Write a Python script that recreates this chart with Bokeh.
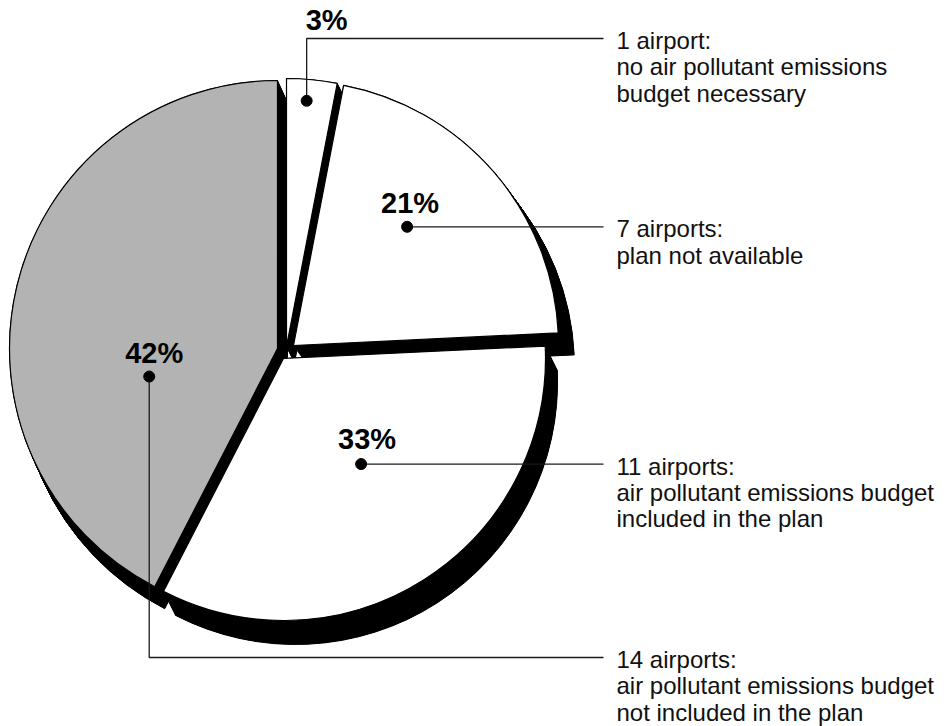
import numpy as np
from bokeh.plotting import figure
from bokeh.models import Range1d
from bokeh.embed import file_html
from bokeh.resources import INLINE
from bokeh.core.properties import value

# ---------------- data ----------------
counts = [1, 7, 11, 14]
pct_labels = ["3%", "21%", "33%", "42%"]
desc_lines = [
    ["1 airport:", "no air pollutant emissions", "budget necessary"],
    ["7 airports:", "plan not available"],
    ["11 airports:", "air pollutant emissions budget", "included in the plan"],
    ["14 airports:", "air pollutant emissions budget", "not included in the plan"],
]

# ---------------- style / layout (screen px, y downward) ----------------
slice_colors = ["#ffffff", "#ffffff", "#ffffff", "#b3b3b3"]
W, H = 952, 726
CX, CY = 277, 348                      # pie centre
explode = [(9, -2), (16, -3), (6, 10), (0, 0)]
radii = [268, 265, 262, 268]
depth = [(8, 16), (16, 22), (12, 24), (10, 22)]   # 3-D side offset
dot_ang_frac = [0.43, 0.43, 0.47, 0.33]
dot_rad_frac = [0.92, 0.62, 0.50, 0.49]
label_y = [38, None, None, 657]        # y of the label block (None: dot height)
pct_off = [(20, -70), (3, -13), (6, -14), (5, -13)]  # text centre-x / baseline from dot
LINE_END_X = 603
TEXT_X = 616
LINE_H = 26.3
FONT = "Liberation Sans"
PCT_FS, DESC_FS = 29, 24
BASE_FIX = 0.37                        # renderer baseline correction (em)


def Y(sy):
    return H - sy


p = figure(width=W, height=H, x_range=Range1d(0, W), y_range=Range1d(0, H),
           output_backend="svg", toolbar_location=None, min_border=0)
p.axis.visible = False
p.grid.visible = False
p.outline_line_color = None
p.background_fill_color = "white"
p.border_fill_color = "white"

total = float(sum(counts))
theta = np.concatenate([[0.0], np.cumsum(counts) / total * 2 * np.pi])  # clockwise from top

# 3-D sides (black), drawn first
N = 40
for i in range(len(counts)):
    vx, vy = CX + explode[i][0], CY + explode[i][1]
    t = np.linspace(0, 1, N)
    xs = vx + t * depth[i][0]
    ys = [Y(vy + tt * depth[i][1]) for tt in t]
    p.wedge(x=xs, y=ys, radius=radii[i],
            start_angle=np.pi / 2 - theta[i + 1], end_angle=np.pi / 2 - theta[i],
            fill_color="black", line_color="black", line_width=1)

# front faces
for i in range(len(counts)):
    vx, vy = CX + explode[i][0], CY + explode[i][1]
    p.wedge(x=[vx], y=[Y(vy)], radius=radii[i],
            start_angle=np.pi / 2 - theta[i + 1], end_angle=np.pi / 2 - theta[i],
            fill_color=slice_colors[i], line_color="black", line_width=1.2)

# labels
for i in range(len(counts)):
    vx, vy = CX + explode[i][0], CY + explode[i][1]
    a = theta[i] + dot_ang_frac[i] * (theta[i + 1] - theta[i])
    r = dot_rad_frac[i] * radii[i]
    dx, dy = vx + r * np.sin(a), vy - r * np.cos(a)
    ly = label_y[i] if label_y[i] is not None else dy
    if abs(ly - dy) > 0.5:
        xs_l = [dx, dx, LINE_END_X]
        ys_l = [Y(dy), Y(ly), Y(ly)]
    else:
        xs_l = [dx, LINE_END_X]
        ys_l = [Y(dy), Y(dy)]
    p.line(xs_l, ys_l, line_color="#1a1a1a", line_width=1.3)
    p.scatter([dx], [Y(dy)], size=11, marker="circle", fill_color="black", line_color="black")
    p.text([dx + pct_off[i][0]], [Y(dy + pct_off[i][1] - BASE_FIX * PCT_FS)], text=[pct_labels[i]],
           text_font=value(FONT), text_font_style="bold", text_font_size=f"{PCT_FS}px",
           text_align="center", text_baseline="alphabetic", text_color="black")
    lines = desc_lines[i]
    p.text([TEXT_X] * len(lines),
           [Y(ly + 11 + k * LINE_H - BASE_FIX * DESC_FS) for k in range(len(lines))], text=lines,
           text_font=value(FONT), text_font_size=f"{DESC_FS}px", text_align="left",
           text_baseline="alphabetic", text_color="#111111")

open("out.html", "w").write(file_html(p, INLINE))
